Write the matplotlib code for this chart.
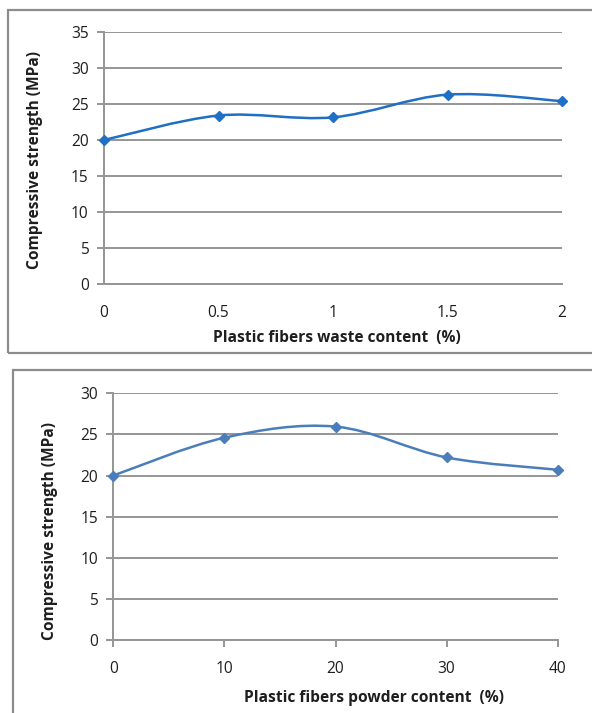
import numpy as np
import matplotlib
matplotlib.use("Agg")
import matplotlib.pyplot as plt
from matplotlib.path import Path
from matplotlib.patches import PathPatch, Rectangle

plt.rcParams['font.family'] = ['Open Sans', 'DejaVu Sans']

# top chart: plastic fibers waste
waste_x = [0, 0.5, 1, 1.5, 2]
waste_y = [20.0, 23.4, 23.15, 26.3, 25.4]
waste_xticks = [0, 0.5, 1, 1.5, 2]
waste_xticklabels = ["0", "0.5", "1", "1.5", "2"]
waste_yticks = [0, 5, 10, 15, 20, 25, 30, 35]

# bottom chart: plastic fibers powder
powder_x = [0, 10, 20, 30, 40]
powder_y = [20.0, 24.6, 25.95, 22.2, 20.7]
powder_xticks = [0, 10, 20, 30, 40]
powder_yticks = [0, 5, 10, 15, 20, 25, 30]

W, H = 592, 713
GRID = "#959595"
TXT = "#1e1e1e"
FS = 11.2


def smooth_path(x, y):
    # Excel-like smoothed line (Catmull-Rom as cubic Bezier)
    pts = np.column_stack([x, y]).astype(float)
    n = len(pts)
    verts = [pts[0]]
    codes = [Path.MOVETO]
    for i in range(n - 1):
        p0 = pts[max(i - 1, 0)]
        p1 = pts[i]
        p2 = pts[i + 1]
        p3 = pts[min(i + 2, n - 1)]
        verts += [p1 + (p2 - p0) / 6, p2 - (p3 - p1) / 6, p2]
        codes += [Path.CURVE4] * 3
    return Path(verts, codes)


def px_axes(fig, x0, y0, x1, y1):
    return fig.add_axes([x0 / W, 1 - y1 / H, (x1 - x0) / W, (y1 - y0) / H])


def style(ax, ylim, yticks, xlim, xticks, xlabels, xtick_len):
    ax.set_xlim(*xlim)
    ax.set_ylim(*ylim)
    ax.set_yticks(yticks)
    ax.set_xticks(xticks)
    ax.set_xticklabels(xlabels)
    ax.grid(axis="y", color=GRID, lw=1.4)
    ax.set_axisbelow(True)
    for s in ["top", "right"]:
        ax.spines[s].set_visible(False)
    for s in ["left", "bottom"]:
        ax.spines[s].set_color(GRID)
        ax.spines[s].set_linewidth(1.4)
    ax.tick_params(axis="y", length=5, width=1.4, color=GRID, pad=6,
                   labelsize=FS, labelcolor=TXT)
    ax.tick_params(axis="x", length=xtick_len, width=1.4, color=GRID,
                   pad=15 - xtick_len, labelsize=FS, labelcolor=TXT)


fig = plt.figure(figsize=(W / 100, H / 100), dpi=100)

# panel borders
fig.patches.append(Rectangle((8 / W, 1 - 353 / H), 600 / W, 343 / H,
                             transform=fig.transFigure, fill=False,
                             ec="#8c8c8c", lw=1.6))
fig.patches.append(Rectangle((13 / W, 1 - 720 / H), 600 / W, 350 / H,
                             transform=fig.transFigure, fill=False,
                             ec="#8c8c8c", lw=1.6))

# top
ax1 = px_axes(fig, 104, 32, 562, 284)
style(ax1, (0, 35), waste_yticks, (0, 2), waste_xticks, waste_xticklabels, 0)
ax1.add_patch(PathPatch(smooth_path(waste_x, waste_y), fill=False,
                        ec="#1f6fc5", lw=1.8, clip_on=False))
ax1.plot(waste_x, waste_y, ls="none", marker="D", ms=5.4, color="#1f6fc5",
         clip_on=False, zorder=3)
fig.text(337 / W, 1 - 338 / H, "Plastic fibers waste content  (%)",
         ha="center", va="center", fontsize=FS, weight="bold", color=TXT)
fig.text(35 / W, 1 - 160 / H, "Compressive strength (MPa)", rotation=90,
         ha="center", va="center", fontsize=FS, weight="bold", color=TXT)

# bottom
ax2 = px_axes(fig, 113.3, 393.3, 557.7, 640)
style(ax2, (0, 30), powder_yticks, (0, 40), powder_xticks,
      [str(v) for v in powder_xticks], 5)
ax2.add_patch(PathPatch(smooth_path(powder_x, powder_y), fill=False,
                        ec="#4a7ebb", lw=1.8, clip_on=False))
ax2.plot(powder_x, powder_y, ls="none", marker="D", ms=5.4, color="#4a7ebb",
         clip_on=False, zorder=3)
fig.text(374 / W, 1 - 698 / H, "Plastic fibers powder content  (%)",
         ha="center", va="center", fontsize=FS, weight="bold", color=TXT)
fig.text(50 / W, 1 - 531 / H, "Compressive strength (MPa)", rotation=90,
         ha="center", va="center", fontsize=FS, weight="bold", color=TXT)

fig.savefig("out.png", dpi=100)
